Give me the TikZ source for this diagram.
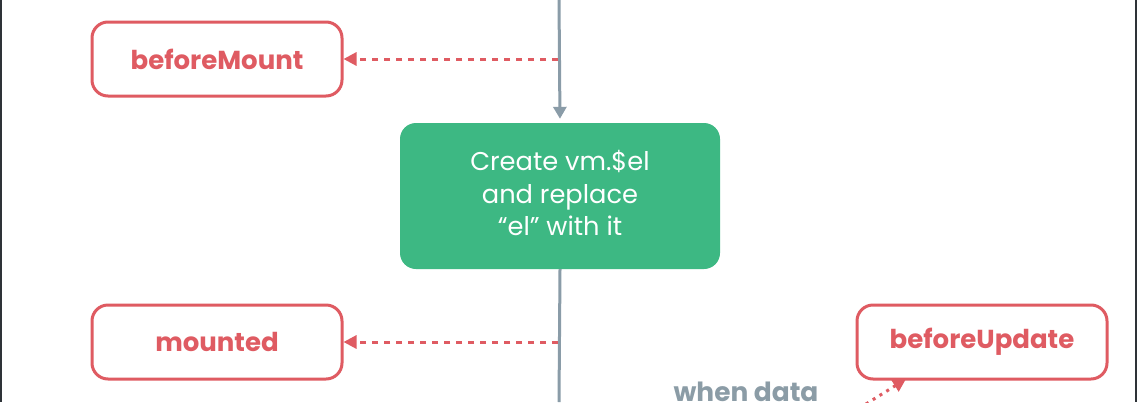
\documentclass[tikz,border=0pt]{standalone}
\usepackage{fontspec}
\setmainfont{Poppins}
\usetikzlibrary{arrows.meta}
\definecolor{hookred}{HTML}{DF5B62}
\definecolor{vgreen}{HTML}{3DB883}
\definecolor{flowgray}{HTML}{8A9CA8}
\definecolor{labelgray}{HTML}{8B9CA6}
\definecolor{edgedark}{HTML}{2E3338}
\tikzset{
  hookbox/.style={draw=hookred, line width=3pt, rounded corners=16pt, fill=white,
    minimum width=250pt, minimum height=74pt, text=hookred,
    font=\fontsize{26}{30}\selectfont\bfseries, inner sep=0pt},
  actbox/.style={fill=vgreen, rounded corners=16pt, minimum width=320pt, minimum height=146pt,
    inner sep=0pt},
  acttext/.style={text=white, align=center, font=\fontsize{25.7}{32.5}\selectfont, inner sep=0pt},
  flowline/.style={draw=flowgray, line width=3pt},
  hooklink/.style={draw=hookred, line width=3pt, dash pattern=on 6.5pt off 5.5pt,
    -{Triangle[length=13pt,width=13pt]}},
  hookdot/.style={draw=hookred, line width=3pt, dash pattern=on 3pt off 5pt,
    -{Triangle[length=13pt,width=13pt]}},
}
\begin{document}
\begin{tikzpicture}[x=1pt,y=-1pt]
\useasboundingbox (0,0) rectangle (1137,402);
\fill[white] (0,0) rectangle (1137,402);
\fill[edgedark] (0,0) rectangle (2,402);
\fill[edgedark] (1135,0) rectangle (1137,402);

\node[hookbox] (bm) at (217,59) {beforeMount};
\node[actbox] (cr) at (560,196) {};
\node[acttext] (crt) at ([yshift=3pt]cr.center) {Create vm.\$el\\and replace\\“el” with it};
\node[hookbox] (mt) at (217,342) {mounted};
\node[hookbox] (bu) at (982,342) {beforeUpdate};
\node[font=\fontsize{26.4}{30}\selectfont\bfseries, text=labelgray, anchor=base] (wd) at (746,401) {when data};

\coordinate (top) at (559,0);
\coordinate (bot) at (559,402);
\coordinate (tbm) at (558,59);
\coordinate (tmt) at (558,342);
\coordinate (ud) at (866,404);
\coordinate (udtip) at (906,379);

\draw[flowline, -{Triangle[length=12pt,width=13pt]}, shorten >=4pt] (top) -- (cr.north);
\draw[flowline] (cr.south) -- (bot);
\draw[hooklink] (tbm) -- (bm.east);
\draw[hooklink] (tmt) -- (mt.east);
\draw[hookdot] (ud) -- (udtip);
\end{tikzpicture}
\end{document}
